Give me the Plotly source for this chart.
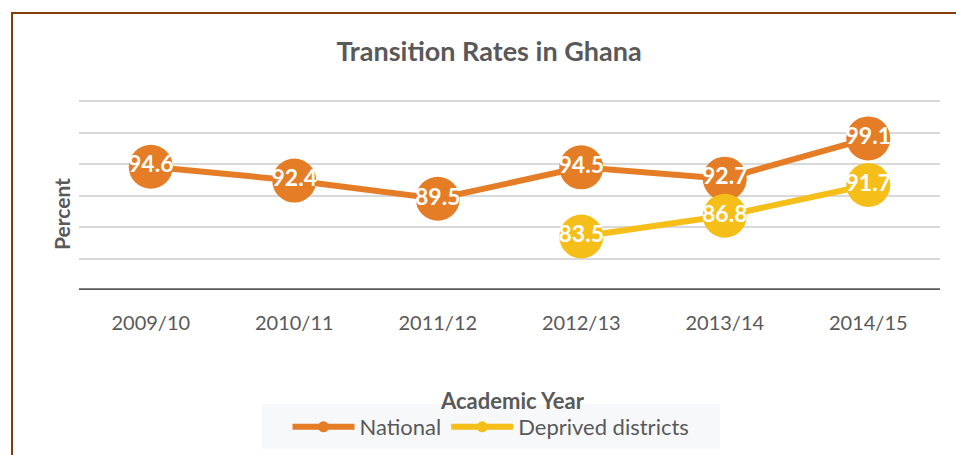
import plotly.graph_objects as go

# Transition rates by academic year
years = ["2009/10", "2010/11", "2011/12", "2012/13", "2013/14", "2014/15"]
national = [94.6, 92.4, 89.5, 94.5, 92.7, 99.1]
deprived = [None, None, None, 83.5, 86.8, 91.7]

ORANGE = "#E57D27"
GOLD = "#F5BE18"
GREY = "#595959"
FONT = "Lato, 'Open Sans', sans-serif"

W, H = 956, 455
ML, MR, MT, MB = 79, 16, 95, 165
PW, PH = W - ML - MR, H - MT - MB
Y0, Y1 = 75, 106


def px_x(x):
    return (x - ML) / PW


def px_y(y):
    return (H - MB - y) / PH


fig = go.Figure()

for name, vals, col in [("National", national, ORANGE), ("Deprived districts", deprived, GOLD)]:
    fig.add_trace(go.Scatter(
        x=years, y=vals, mode="lines+markers+text", name=name,
        line=dict(color=col, width=6),
        marker=dict(color=col, size=44),
        text=[None if v is None else f"{v:.1f}" for v in vals],
        textposition="middle center",
        textfont=dict(color="white", size=23, family=FONT, weight="bold"),
        showlegend=False, cliponaxis=False,
    ))
    # legend entry with a small dot
    fig.add_trace(go.Scatter(
        x=[None], y=[None], mode="lines+markers", name=name,
        line=dict(color=col, width=6), marker=dict(color=col, size=11),
    ))

# outer frame
fig.add_shape(type="rect", xref="paper", yref="paper",
              x0=px_x(12), x1=px_x(1000), y0=px_y(13), y1=px_y(600),
              line=dict(color="#843C0C", width=2), fillcolor="rgba(0,0,0,0)", layer="below")
# legend panel
fig.add_shape(type="rect", xref="paper", yref="paper",
              x0=px_x(262), x1=px_x(720), y0=px_y(404), y1=px_y(449),
              line=dict(width=0), fillcolor="#F7F8FA", layer="below")

fig.add_annotation(text="<b>Percent</b>", textangle=-90, xref="paper", yref="paper",
                   x=px_x(61), y=px_y(214), xanchor="center", yanchor="middle",
                   showarrow=False, font=dict(size=21, color=GREY, family=FONT))
fig.add_annotation(text="<b>Academic Year</b>", xref="paper", yref="paper",
                   x=px_x(512), y=px_y(400), xanchor="center", yanchor="middle",
                   showarrow=False, font=dict(size=22, color=GREY, family=FONT))

fig.update_layout(
    width=W, height=H,
    margin=dict(l=ML, r=MR, t=MT, b=MB, autoexpand=False),
    paper_bgcolor="white", plot_bgcolor="white",
    font=dict(family=FONT, color=GREY),
    title=dict(text="<b>Transition Rates in Ghana</b>", x=489 / W, xanchor="center",
               y=1 - 52 / H, yanchor="middle", font=dict(size=27, color=GREY, family=FONT)),
    xaxis=dict(type="category", range=[-0.5, 5.5], showgrid=False, zeroline=False,
               showline=False, ticks="outside", ticklen=15, tickcolor="rgba(0,0,0,0)",
               tickfont=dict(size=20, color=GREY, family=FONT)),
    yaxis=dict(range=[Y0, Y1], dtick=5, showticklabels=False, showgrid=True,
               gridcolor="#D9D9D9", gridwidth=2, zeroline=False, showline=False),
    legend=dict(orientation="h", xref="container", yref="container",
                x=491 / W, xanchor="center", y=1 - 427 / H, yanchor="middle",
                font=dict(size=22, color=GREY, family=FONT), bgcolor="rgba(0,0,0,0)",
                itemwidth=62, tracegroupgap=0),
    showlegend=True,
)

# x axis baseline
fig.add_shape(type="line", xref="paper", yref="y", x0=0, x1=1, y0=Y0, y1=Y0,
              line=dict(color=GREY, width=3.5))

fig.write_html("out.html")
